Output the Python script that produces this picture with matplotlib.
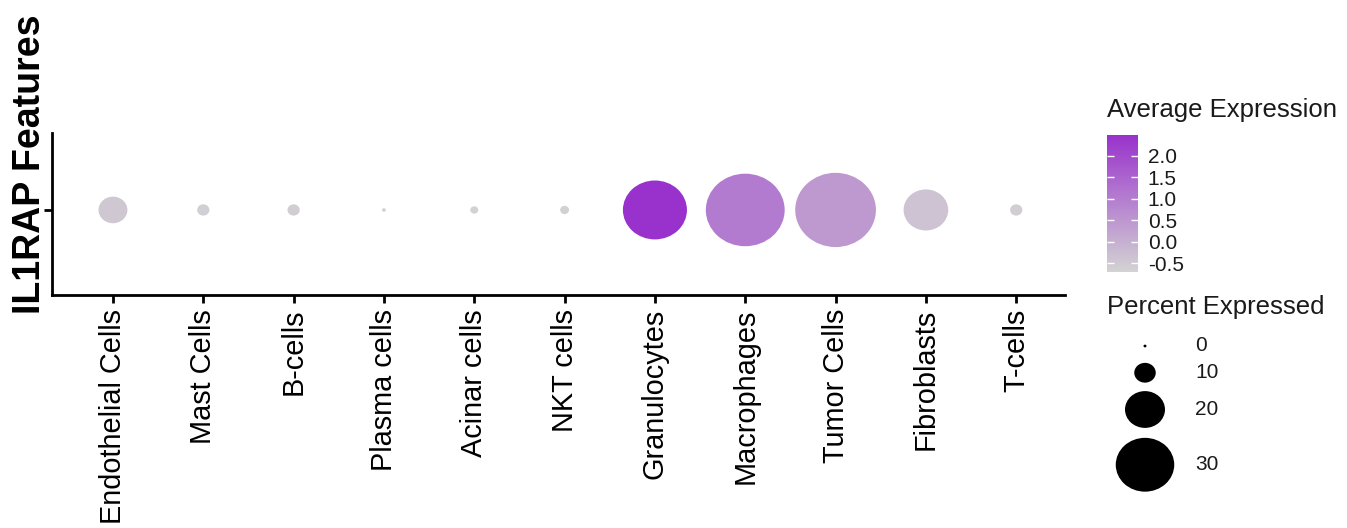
import numpy as np
import matplotlib
matplotlib.use("Agg")
import matplotlib.pyplot as plt
from matplotlib.colors import LinearSegmentedColormap, Normalize
from matplotlib.path import Path
from matplotlib.cm import ScalarMappable

plt.rcParams['font.family'] = ['Liberation Sans', 'DejaVu Sans']

# IL1RAP dot plot: one feature across cell clusters
cell_types = ["Endothelial Cells", "Mast Cells", "B-cells", "Plasma cells",
              "Acinar cells", "NKT cells", "Granulocytes", "Macrophages",
              "Tumor Cells", "Fibroblasts", "T-cells"]
pct_expressed = [14.0, 5.0, 5.0, 0.5, 2.7, 3.2, 33.0, 41.0, 42.0, 22.5, 5.0]
avg_expression = [-0.49, -0.62, -0.60, -0.71, -0.66, -0.64, 2.49, 1.05, 0.45, -0.38, -0.58]

cbar_ticks = [-0.5, 0.0, 0.5, 1.0, 1.5, 2.0]
size_breaks = [0, 10, 20, 30]

W, H, DPI = 1347, 528, 100
fig = plt.figure(figsize=(W / DPI, H / DPI), dpi=DPI)

cmap = LinearSegmentedColormap.from_list("grey_orchid", ["#D3D3D3", "#9932CC"])
norm = Normalize(vmin=min(avg_expression), vmax=max(avg_expression))

# slightly flattened circle as marker
circ = Path.unit_circle()
dot = Path(circ.vertices * np.array([1.0, 0.92]), circ.codes)


def dot_size(pct):
    d_px = 3 + 1.85 * np.asarray(pct, dtype=float)
    return (d_px * 72 / DPI) ** 2


def fx(px):
    return px / W


def fy(px):
    return 1 - px / H


ax = fig.add_axes([fx(52), fy(295), fx(1065 - 52), (295 - 133) / H])
x = np.arange(len(cell_types))
ax.scatter(x, np.ones(len(x)), s=dot_size(pct_expressed),
           c=avg_expression, cmap=cmap, norm=norm, marker=dot, linewidths=0)
ax.set_xlim(-0.675, len(x) - 1 + 0.54)
ax.set_ylim(0.37, 1.57)
ax.set_xticks(x)
ax.set_xticklabels(cell_types, rotation=90, fontsize=20.8)
ax.set_yticks([1])
ax.set_yticklabels([""])
for side in ["top", "right"]:
    ax.spines[side].set_visible(False)
for side in ["left", "bottom"]:
    ax.spines[side].set_linewidth(2)
ax.tick_params(axis="both", length=6, width=2, pad=4)

fig.text(fx(30), fy(164), "IL1RAP Features", rotation=90, fontsize=27,
         fontweight="bold", ha="center", va="center")

# colour legend
cax = fig.add_axes([fx(1107), fy(272), fx(31), 137 / H])
cb = fig.colorbar(ScalarMappable(norm=norm, cmap=cmap), cax=cax, ticks=cbar_ticks)
cb.outline.set_visible(False)
cb.ax.set_yticklabels([f"{t:.1f}" for t in cbar_ticks])
cax.tick_params(direction="in", colors="white", length=5, width=1,
                left=True, right=True, labelsize=15, pad=7)
for lbl in cax.get_yticklabels():
    lbl.set_color("#1a1a1a")
fig.text(fx(1107), fy(110), "Average Expression", fontsize=18.5,
         color="#1a1a1a", va="center", ha="left")

# size legend, laid out in pixel units
lax = fig.add_axes([fx(1100), fy(528), fx(247), (528 - 320) / H])
lax.set_xlim(0, 247)
lax.set_ylim(528, 320)
lax.axis("off")
diam = 3 + 1.85 * np.array(size_breaks, dtype=float)
key_h = np.maximum(diam + 6, 26)
centres = 346 + np.concatenate([[0], np.cumsum((key_h[:-1] + key_h[1:]) / 2)])
lax.scatter(np.full(len(size_breaks), 45), centres, s=dot_size(size_breaks),
            c="black", marker=dot, linewidths=0)
for yc, b in zip(centres, size_breaks):
    lax.text(95, yc, str(b), fontsize=15, va="center", ha="left", color="#1a1a1a")
fig.text(fx(1107), fy(307), "Percent Expressed", fontsize=18.5,
         color="#1a1a1a", va="center", ha="left")

fig.savefig("out.png", dpi=DPI)
